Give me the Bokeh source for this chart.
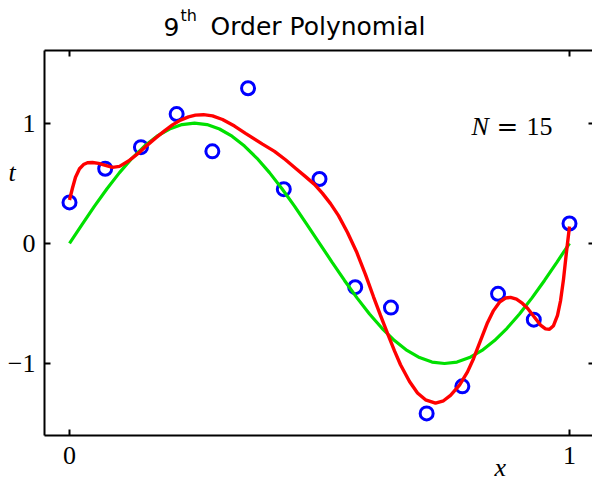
from bokeh.plotting import figure
from bokeh.models import LinearAxis, FixedTicker, Label
from bokeh.embed import file_html
from bokeh.resources import INLINE

# Observed data points (N = 15)
x_data = [0.0, 0.0714, 0.1429, 0.2143, 0.2857, 0.3571, 0.4286, 0.5,
          0.5714, 0.6429, 0.7143, 0.7857, 0.8571, 0.9286, 1.0]
t_data = [0.34, 0.62, 0.80, 1.075, 0.765, 1.29, 0.45, 0.535,
          -0.365, -0.535, -1.415, -1.19, -0.42, -0.635, 0.165]

# Underlying curve
x_true = [i * 0.025 for i in range(41)]
t_true = [0.0, 0.156, 0.309, 0.454, 0.588, 0.707, 0.809, 0.891, 0.951, 0.988,
          1.0, 0.988, 0.951, 0.891, 0.809, 0.707, 0.588, 0.454, 0.309, 0.156,
          0.0, -0.156, -0.309, -0.454, -0.588, -0.707, -0.809, -0.891, -0.951, -0.988,
          -1.0, -0.988, -0.951, -0.891, -0.809, -0.707, -0.588, -0.454, -0.309, -0.156,
          0.0]

# 9th order polynomial fit
x_fit = [0.0, 0.006, 0.012, 0.020, 0.028, 0.036, 0.046, 0.058, 0.072, 0.086,
         0.100, 0.118, 0.138, 0.155, 0.172, 0.190, 0.206, 0.222, 0.238, 0.252,
         0.268, 0.286, 0.306, 0.330, 0.352, 0.386, 0.410, 0.432, 0.452, 0.472,
         0.490, 0.506, 0.522, 0.538, 0.556, 0.574, 0.592, 0.608, 0.622, 0.636,
         0.650, 0.662, 0.680, 0.696, 0.712, 0.732, 0.748, 0.762, 0.780, 0.796,
         0.808, 0.822, 0.836, 0.848, 0.860, 0.872, 0.882, 0.894, 0.906, 0.916,
         0.928, 0.942, 0.952, 0.960, 0.968, 0.976, 0.982, 0.988, 0.994, 1.0]
t_fit = [0.36, 0.46, 0.55, 0.62, 0.655, 0.67, 0.672, 0.665, 0.648, 0.632,
         0.640, 0.685, 0.750, 0.815, 0.875, 0.935, 0.985, 1.025, 1.052, 1.066,
         1.070, 1.060, 1.030, 0.975, 0.915, 0.825, 0.765, 0.695, 0.625, 0.555,
         0.490, 0.415, 0.330, 0.230, 0.090, -0.070, -0.260, -0.445, -0.600, -0.750,
         -0.895, -1.010, -1.150, -1.245, -1.302, -1.330, -1.310, -1.265, -1.180, -1.070,
         -0.960, -0.810, -0.660, -0.560, -0.490, -0.455, -0.450, -0.465, -0.500, -0.540,
         -0.605, -0.680, -0.712, -0.715, -0.685, -0.600, -0.480, -0.300, -0.070, 0.140]

x_ticks = [0, 1]
y_ticks = [-1, 0, 1]
tick_text = {-1: "\u22121", 0: "0", 1: "1"}

# Box limits of the axes
X_LO, X_HI = -0.05, 1.05
Y_LO, Y_HI = -1.6, 1.6

SERIF = "Liberation Serif"
SANS = "DejaVu Sans"

# The frame fills the canvas; the axes are pinned to the box edges
p = figure(width=592, height=482, x_range=(-0.138, 1.046), y_range=(-1.99, 2.02),
           min_border=0, toolbar_location=None, output_backend="svg",
           x_axis_location=None, y_axis_location=None)
p.grid.visible = False
p.outline_line_color = None
p.background_fill_color = "white"
p.border_fill_color = "white"


def make_axis(ticks, loc, bounds, labels, line=True):
    ax = LinearAxis(fixed_location=loc, bounds=bounds)
    ax.ticker = FixedTicker(ticks=ticks)
    ax.axis_line_color = "black" if line else None
    ax.axis_line_width = 2
    ax.major_tick_line_width = 2
    ax.major_tick_in = 6
    ax.major_tick_out = 0
    ax.minor_tick_line_color = None
    if labels:
        ax.major_label_overrides = tick_text
        ax.major_label_text_font = SERIF
        ax.major_label_text_font_size = "26px"
        ax.major_label_text_color = "black"
    else:
        ax.major_label_overrides = {t: "" for t in ticks}
        ax.major_label_standoff = 0
    return ax


left = make_axis(y_ticks, X_LO, (Y_LO, Y_HI), True)
left.major_label_standoff = 9
p.add_layout(left, "left")

bottom = make_axis(x_ticks, Y_LO, (X_LO, X_HI), True)
bottom.major_label_standoff = 11
p.add_layout(bottom, "below")

top = make_axis(x_ticks, Y_HI, (X_LO, X_HI), False)
p.add_layout(top, "above")

right = make_axis(y_ticks, X_HI, (Y_LO, Y_HI), False, line=False)
p.add_layout(right, "right")

# Data points, true curve, fitted polynomial
p.scatter(x_data, t_data, marker="circle", size=13, fill_color=None,
          line_color="#0000ff", line_width=3)
p.line(x_true, t_true, line_color="#00e000", line_width=3.2)
p.line(x_fit, t_fit, line_color="#ff0000", line_width=3.4)


def note(x, y, text, font, size, style="normal"):
    # positions are in canvas pixels from the lower-left corner
    p.add_layout(Label(x=x, y=y, x_units="screen", y_units="screen", text=text,
                       text_font=font, text_font_size=size, text_font_style=style,
                       text_baseline="alphabetic", text_color="black"))


# Title with superscript
note(163, 456, "9", SANS, "25px")
note(180, 467, "th", SANS, "16px")
note(210, 456, "Order Polynomial", SANS, "25px")

# Axis names and sample size
note(8, 310, "t", SERIF, "26px", "italic")
note(494, 15, "x", SERIF, "26px", "italic")
note(471, 356, "N", SERIF, "26px", "italic")
note(496, 356, "=", "DejaVu Serif", "26px")
note(526, 356, "15", SERIF, "26px")

open("out.html", "w").write(file_html(p, INLINE))
